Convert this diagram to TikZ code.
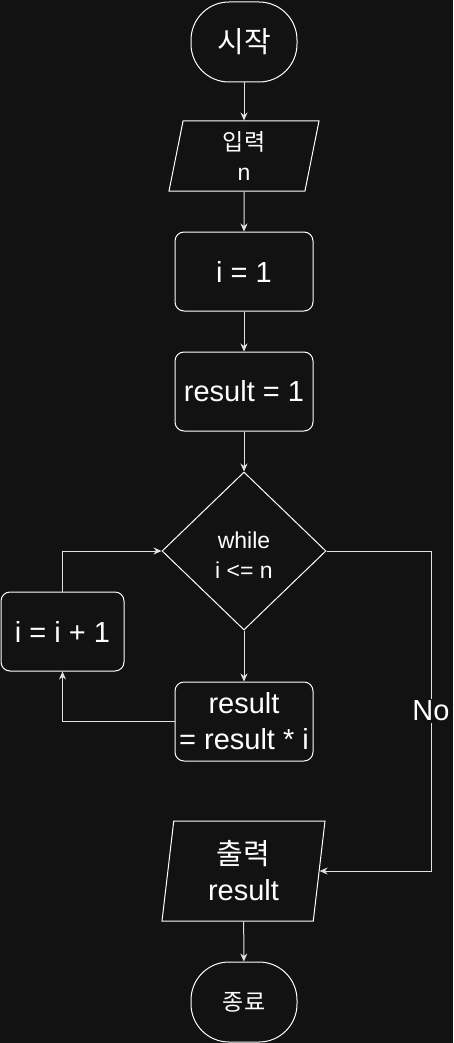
\documentclass[tikz,border=0pt]{standalone}
\usepackage{fontspec}
\setmainfont{Liberation Sans}
\newfontfamily\kr{Noto Sans CJK KR}
\usetikzlibrary{shapes.geometric,arrows.meta}
\definecolor{bgdark}{RGB}{18,18,18}
\definecolor{lineclr}{RGB}{225,225,225}
\begin{document}
\begin{tikzpicture}[x=1pt, y=-1pt, line width=1pt,
  every node/.style={text=white, align=center},
  big/.style={font=\fontsize{29}{36}\selectfont},
  small/.style={font=\fontsize{23}{30}\selectfont},
  term/.style={draw=white, rounded corners=38pt, minimum width=106pt, minimum height=80pt},
  proc/.style={draw=white, rounded corners=9pt, minimum width=138pt, minimum height=79pt, inner sep=0pt},
  io/.style={draw=white, trapezium, trapezium stretches body, inner sep=0pt},
  cond/.style={draw=white, diamond, minimum width=164pt, minimum height=158pt, inner sep=0pt},
  arr/.style={draw=lineclr, -{Stealth[length=8pt,width=7pt]}}]
	% Nền
	\fill[bgdark] (0,0) rectangle (453,1043);
	\useasboundingbox (0,0) rectangle (453,1043);
	
	% Các khối
	\node[term,big] (start) at (244,42) {{\kr 시작}};
	\node[io,small, trapezium left angle=74, trapezium right angle=106,
		minimum width=150pt, minimum height=70pt] (inp) at (244,156) {{\kr 입력}\\n};
	\node[proc,big] (init) at (244,271.5) {i = 1};
	\node[proc,big] (res) at (244,391.5) {result = 1};
	\node[cond,small] (loop) at (244,551) {};
	\node[small] (looptxt) at (244,555) {while\\i <= n};
	\node[proc,big, minimum width=123pt] (inc) at (62.5,631.5) {i = i + 1};
	\node[proc,big] (mult) at (244,721.5) {result\\= result * i};
	\node[io,big, trapezium left angle=79, trapezium right angle=101,
		minimum width=163pt, minimum height=100pt] (out) at (243.5,871) {{\kr 출력}\\result};
	\node[term,small] (stop) at (244,1002) {{\kr 종료}};
	
	% Mũi tên
	\draw[arr] (start) -- (inp);
	\draw[arr] (inp) -- (init);
	\draw[arr] (init) -- (res);
	\draw[arr] (res) -- (loop);
	\draw[arr] (loop) -- (mult);
	\draw[arr] (mult.west) -| (inc.south);
	\draw[arr] (inc.north) |- (loop.west);
	\coordinate (noturn) at (431,551);
	\draw[arr] (loop.east) -- (noturn) |- node[pos=0.25, big, fill=bgdark, inner sep=2pt] {No} (out.east);
	\draw[arr] (out) -- (stop);
\end{tikzpicture}
\end{document}
